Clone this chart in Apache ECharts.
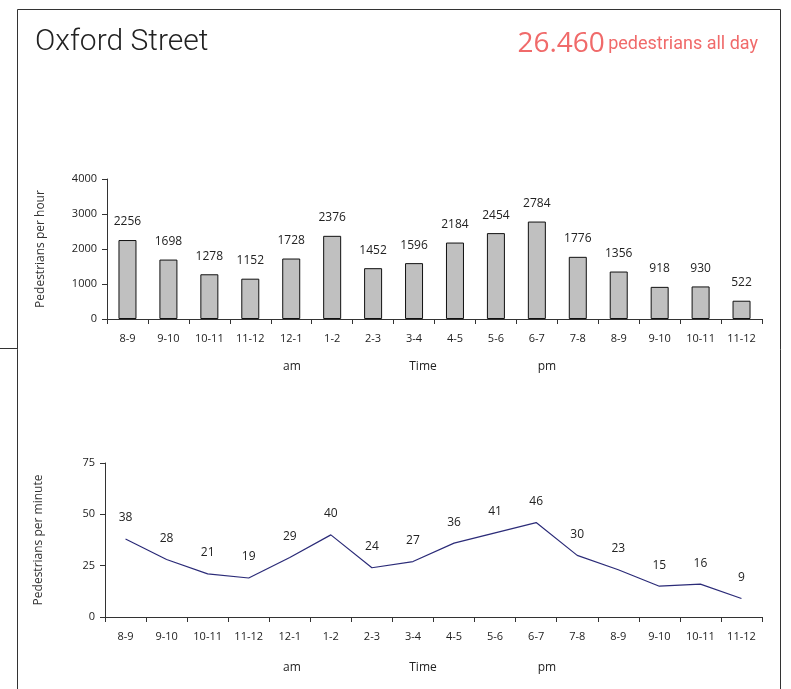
<!DOCTYPE html>
<html>
<head>
<meta charset="utf-8">
<script src="https://cdn.jsdelivr.net/npm/echarts@6/dist/echarts.min.js"></script>
<style>
  html, body { margin: 0; padding: 0; background: #fff; }
  #chart { width: 791px; height: 689px; }
</style>
</head>
<body>
<div id="chart"></div>
<script>
// hour slots, am then pm
var hours = ["8-9", "9-10", "10-11", "11-12", "12-1", "1-2", "2-3", "3-4",
             "4-5", "5-6", "6-7", "7-8", "8-9", "9-10", "10-11", "11-12"];
var perHour = [2256, 1698, 1278, 1152, 1728, 2376, 1452, 1596,
               2184, 2454, 2784, 1776, 1356, 918, 930, 522];
var perMinute = [38, 28, 21, 19, 29, 40, 24, 27,
                 36, 41, 46, 30, 23, 15, 16, 9];
var totalDay = "26.460";

var font = "'Open Sans', 'DejaVu Sans', sans-serif";
var axisColor = "#333";

function catAxis(gridIndex) {
	return {
		type : "category",
		gridIndex : gridIndex,
		data : hours.map(function(h, i) { return i + ""; }),
		axisLine : { lineStyle : { color : axisColor, width : 1 } },
		axisTick : { show : true, length : 5, lineStyle : { color : axisColor } },
		axisLabel : {
			color : "#222", fontSize : 11, fontFamily : font, margin : 14,
			formatter : function(v) { return hours[+v]; }
		}
	};
}

function valAxis(gridIndex, max, interval, name) {
	return {
		type : "value",
		gridIndex : gridIndex,
		min : 0,
		max : max,
		interval : interval,
		name : name,
		nameLocation : "middle",
		nameGap : 60,
		nameTextStyle : { color : "#333", fontSize : 12, fontFamily : font },
		splitLine : { show : false },
		axisLine : { show : true, lineStyle : { color : axisColor } },
		axisTick : { show : true, length : 5, lineStyle : { color : axisColor } },
		axisLabel : {
			color : "#222", fontSize : 11, fontFamily : font, margin : 10,
			formatter : function(v) { return String(v); }
		}
	};
}

var myChart = echarts.init(document.getElementById("chart"));

var subStyle = { fill : "#222", fontSize : 12, fontFamily : font, align : "center", verticalAlign : "middle" };
function sub(x, y, t) {
	return { type : "text", x : x, y : y, style : Object.assign({ text : t }, subStyle) };
}

var option = {
	animation : false,
	grid : [
		{ left : 107, right : 29, top : 179, height : 140 },
		{ left : 105, right : 29, top : 463, height : 154 }
	],
	xAxis : [ catAxis(0), catAxis(1) ],
	yAxis : [
		valAxis(0, 4000, 1000, "Pedestrians per hour"),
		valAxis(1, 75, 25, "Pedestrians per minute")
	],
	graphic : [
		// frame
		{ type : "line", shape : { x1 : 17.5, y1 : 9.5, x2 : 780.5, y2 : 9.5 }, style : { stroke : "#333", lineWidth : 1 } },
		{ type : "line", shape : { x1 : 17.5, y1 : 9.5, x2 : 17.5, y2 : 689 }, style : { stroke : "#333", lineWidth : 1 } },
		{ type : "line", shape : { x1 : 780.5, y1 : 9.5, x2 : 780.5, y2 : 689 }, style : { stroke : "#333", lineWidth : 1 } },
		{ type : "line", shape : { x1 : 0, y1 : 348.5, x2 : 17, y2 : 348.5 }, style : { stroke : "#333", lineWidth : 1 } },
		// heading
		{ type : "text", left : 35, top : 27,
		  style : { text : "Oxford Street", fill : "#222", fontSize : 30, fontWeight : 300, fontFamily : "'Liberation Sans Narrow', 'Roboto', sans-serif" } },
		{ type : "text", right : 33, top : 30,
		  style : {
			rich : {
				big : { fontSize : 28, fill : "#f06a6a", fontFamily : "'Open Sans', sans-serif" },
				small : { fontSize : 18, fill : "#f06a6a", fontFamily : "'Liberation Sans Narrow', 'Roboto', sans-serif" }
			},
			text : "{big|" + totalDay + "} {small|pedestrians all day}"
		  } },
		// am / Time / pm
		sub(292, 367, "am"), sub(423, 367, "Time"), sub(547, 367, "pm"),
		sub(292, 668, "am"), sub(423, 668, "Time"), sub(547, 668, "pm")
	],
	series : [
		{
			name : "Pedestrians per hour",
			type : "bar",
			xAxisIndex : 0,
			yAxisIndex : 0,
			data : perHour,
			barWidth : 18,
			itemStyle : { color : "#c0c0c0", borderColor : "#111", borderWidth : 1 },
			label : {
				show : true, position : "top", distance : 12,
				color : "#222", fontSize : 12, fontFamily : font
			}
		},
		{
			name : "Pedestrians per minute",
			type : "line",
			xAxisIndex : 1,
			yAxisIndex : 1,
			data : perMinute,
			symbol : "circle",
			symbolSize : 2,
			showSymbol : true,
			showAllSymbol : true,
			itemStyle : { color : "rgba(0,0,0,0)", borderWidth : 0 },
			lineStyle : { color : "#2b2b78", width : 1.2 },
			label : {
				show : true, position : "top", distance : 14,
				color : "#222", fontSize : 12, fontFamily : font
			}
		}
	]
};
myChart.setOption(option);
</script>
</body>
</html>
